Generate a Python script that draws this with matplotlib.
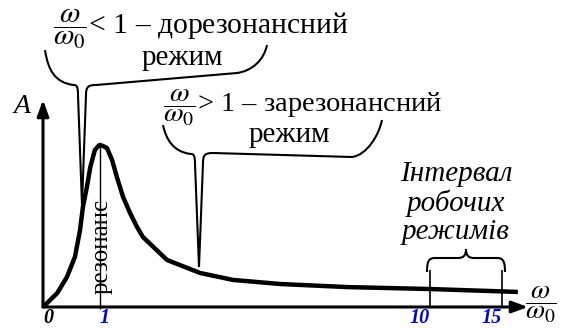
import numpy as np
import matplotlib.pyplot as plt
from matplotlib.path import Path
from matplotlib.patches import PathPatch

plt.rcParams['font.family'] = ['Liberation Serif', 'DejaVu Serif']
plt.rcParams['mathtext.fontset'] = 'stix'

# amplitude curve (w/w0, A with peak = 1)
W_RATIO = [0.0, 0.25, 0.42, 0.56, 0.65, 0.70, 0.77, 0.83, 0.91, 0.98, 1.0, 1.08,
           1.19, 1.33, 1.46, 1.63, 1.82, 2.01, 2.17, 2.83, 3.73, 4.63, 5.91,
           7.74, 10.0, 16.1]
AMPLITUDE = [0.0, 0.086, 0.185, 0.309, 0.475, 0.617, 0.741, 0.864, 0.969, 0.997, 1.0, 0.994,
             0.981, 0.907, 0.802, 0.679, 0.580, 0.494, 0.432, 0.290, 0.210, 0.167, 0.142,
             0.123, 0.111, 0.093]

TICK_VALUES = [0, 1, 10, 15]
TICK_LABELS = ['0', '1', '10', '15']
TICK_COLORS = ['black', '#0000ee', '#0000ee', '#0000ee']
TICK_HA = ['left', 'left', 'right', 'right']
RESONANCE = 1
WORK_INTERVAL = (10, 15)

# the x axis in the picture is not linear, piecewise mapping w/w0 -> pixel
KNOTS_W = [-5, 0, 1, 10, 15, 40]
KNOTS_PX = [-242, 43, 100, 430, 502, 862]
AXIS_PX = 307
PEAK_PX = 145


def fwd(x):
    return np.interp(x, KNOTS_W, KNOTS_PX)


def inv(p):
    return np.interp(p, KNOTS_PX, KNOTS_W)


def px_to_A(py):
    return (AXIS_PX - py) / (AXIS_PX - PEAK_PX)


def callout(ax, xl, yl, xr, yr, xt, yt, yal, yar, yar2, w=4):
    verts = [(xl, yl),
             (xl + 3, yal - 15), (xl + 10, yal - 2), (xt - w - 4, yal),
             (xt - w - 1, yal), (xt - w, yal + 2), (xt - w, yal + 10),
             (xt, yt),
             (xt + w, yar + 10),
             (xt + w, yar + 2), (xt + w + 2, yar), (xt + w + 10, yar),
             (xr - 30, yar2),
             (xr - 15, yar2 - 2), (xr - 3, yr + 15), (xr, yr)]
    codes = [Path.MOVETO] + [Path.CURVE4] * 6 + [Path.LINETO] * 2 + [Path.CURVE4] * 3 \
        + [Path.LINETO] + [Path.CURVE4] * 3
    ax.add_patch(PathPatch(Path(verts, codes), fc='none', ec='k', lw=1.5))


def brace(ax, x0, x1, yend, yarm, ytip):
    xm = (x0 + x1) / 2
    verts = [(x0, yend),
             (x0, yarm + 3), (x0 + 2, yarm), (x0 + 8, yarm),
             (xm - 8, yarm),
             (xm - 3, yarm), (xm, yarm - 2), (xm, ytip),
             (xm, yarm - 2), (xm + 3, yarm), (xm + 8, yarm),
             (x1 - 8, yarm),
             (x1 - 2, yarm), (x1, yarm + 3), (x1, yend)]
    codes = [Path.MOVETO] + [Path.CURVE4] * 3 + [Path.LINETO] + [Path.CURVE4] * 6 \
        + [Path.LINETO] + [Path.CURVE4] * 3
    ax.add_patch(PathPatch(Path(verts, codes), fc='none', ec='k', lw=1.5))


fig = plt.figure(figsize=(5.61, 3.28), dpi=100)
ax = fig.add_axes([0, 0, 1, 1])
ax.set_xscale('function', functions=(fwd, inv))
ax.set_xlim(inv(0), inv(561))
ax.set_ylim(px_to_A(328), px_to_A(0))
ax.axis('off')

# overlay in pixel units for the annotations
ov = fig.add_axes([0, 0, 1, 1], facecolor='none')
ov.set_xlim(0, 561)
ov.set_ylim(328, 0)
ov.axis('off')

ax.plot(W_RATIO, AMPLITUDE, color='k', lw=3.2, solid_joinstyle='round', solid_capstyle='butt')

arrow = dict(arrowstyle='-|>,head_length=0.6,head_width=0.22', lw=2.2, color='k',
             shrinkA=0, shrinkB=0, mutation_scale=16)
ax.annotate('', xy=(inv(528), 0), xytext=(0, 0), arrowprops=arrow)
ax.annotate('', xy=(0, px_to_A(100)), xytext=(0, 0), arrowprops=arrow)

for v, lab, c, ha in zip(TICK_VALUES, TICK_LABELS, TICK_COLORS, TICK_HA):
    ax.text(v, px_to_A(318), lab, ha=ha, va='center', fontsize=14.5,
            fontweight='bold', style='italic', color=c)

# resonance line
ax.vlines(RESONANCE, px_to_A(309), px_to_A(147), color='k', lw=1.0)
ax.text(inv(102), px_to_A(246), 'резонанс', rotation=90, ha='center', va='center',
        fontsize=18)

# working interval
ax.vlines(WORK_INTERVAL, 0, px_to_A(270), color='k', lw=1.2)
brace(ov, fwd(WORK_INTERVAL[0]) - 3, fwd(WORK_INTERVAL[1]) + 3, 272, 258, 249)
ov.text(456, 161, 'Інтервал\nробочих\nрежимів', ha='center', va='top',
        fontsize=21, style='italic', linespacing=1.12)

# callouts
callout(ov, 45, 50, 267, 45, 82, 205, 85, 85, 73)
callout(ov, 163, 125, 382, 120, 199, 267, 154, 153, 157)

ov.text(53, 35, r'$\dfrac{\omega}{\omega_0}$< 1 – дорезонансний', ha='left', va='baseline',
        fontsize=21.3)
ov.text(182, 65, 'режим', ha='center', va='baseline', fontsize=21)
ov.text(163, 112, r'$\dfrac{\omega}{\omega_0}$> 1 – зарезонансний', ha='left', va='baseline',
        fontsize=20.5)
ov.text(289, 142, 'режим', ha='center', va='baseline', fontsize=21)

ov.text(22, 113, 'A', ha='center', va='baseline', fontsize=20, style='italic')
ov.text(541, 305, r'$\dfrac{\omega}{\omega_0}$', ha='center', va='center', fontsize=20)

fig.savefig('out.png', dpi=100)
